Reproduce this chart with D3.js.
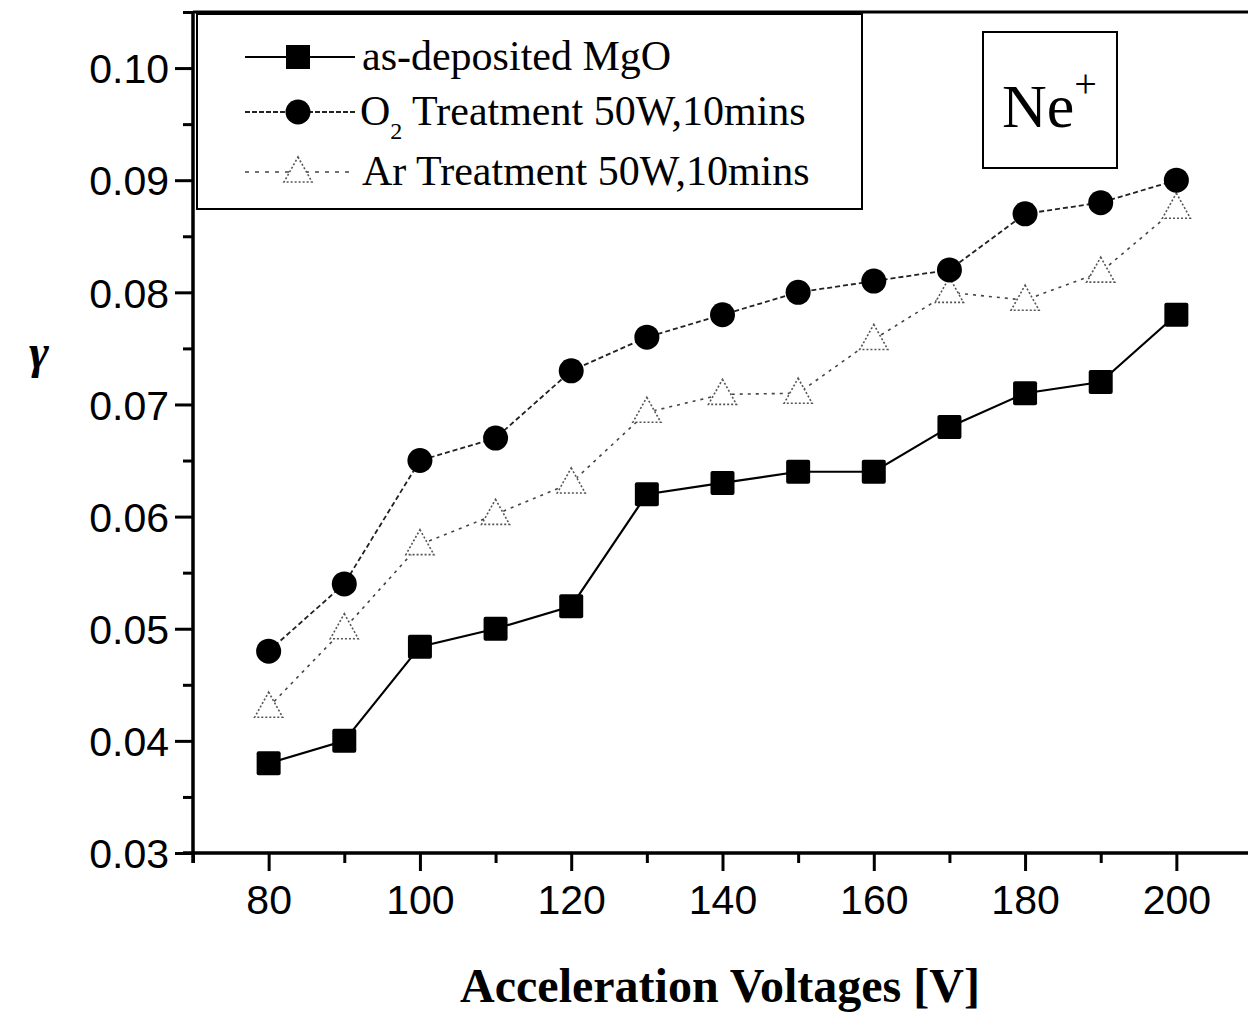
<!DOCTYPE html>
<html>
<head>
<meta charset="utf-8">
<script src="https://cdn.jsdelivr.net/npm/d3@7"></script>
<style>
  html, body { margin: 0; padding: 0; background: #fff; }
  svg { display: block; }
  .tick text { font-family: Arial, "Liberation Sans", sans-serif; }
</style>
</head>
<body>
<svg id="chart" width="1248" height="1016"></svg>
<script>
// Acceleration voltages (V)
const voltages = [80, 90, 100, 110, 120, 130, 140, 150, 160, 170, 180, 190, 200];

// Secondary electron emission coefficient (gamma) for Ne+ ions
const asDeposited = [0.038, 0.040, 0.0484, 0.050, 0.052, 0.062, 0.063, 0.064, 0.064, 0.068, 0.071, 0.072, 0.078];
const o2Treatment = [0.048, 0.054, 0.065, 0.067, 0.073, 0.076, 0.078, 0.080, 0.081, 0.082, 0.087, 0.088, 0.090];
const arTreatment = [0.043, 0.050, 0.0575, 0.0602, 0.063, 0.0693, 0.0709, 0.071, 0.0758, 0.080, 0.0793, 0.0818, 0.0875];

const seriesNames = ["as-deposited MgO", "Treatment 50W,10mins", "Ar Treatment 50W,10mins"];

const xTicks = [80, 100, 120, 140, 160, 180, 200];
const xMinorTicks = [70, 90, 110, 130, 150, 170, 190, 210];
const yTicks = [0.03, 0.04, 0.05, 0.06, 0.07, 0.08, 0.09, 0.10];
const yMinorTicks = [0.035, 0.045, 0.055, 0.065, 0.075, 0.085, 0.095, 0.105];

const svg = d3.select("#chart");

const x = d3.scaleLinear().domain([70, 210]).range([193, 1252]);
const y = d3.scaleLinear().domain([0.03, 0.105]).range([853, 12]);

// Frame (top and right edges)
svg.append("path")
  .attr("d", `M${x(70)},${y(0.105)} H${x(210)} V${y(0.03)}`)
  .attr("fill", "none").attr("stroke", "#000").attr("stroke-width", 3);

// Y axis
const yAxis = svg.append("g").attr("transform", `translate(${x(70)},0)`);
yAxis.call(d3.axisLeft(y).tickValues(yTicks).tickFormat(d3.format(".2f")).tickSize(18).tickPadding(6));
yAxis.append("g").call(d3.axisLeft(y).tickValues(yMinorTicks).tickFormat("").tickSize(10));
yAxis.selectAll(".domain").attr("stroke-width", 3).attr("d", `M0,${y(0.105)}V${y(0.03) + 10}`);
yAxis.selectAll("line").attr("stroke-width", 3);
yAxis.selectAll("text").attr("font-size", 41).attr("fill", "#000").attr("dy", "0.36em");

// X axis
const xAxis = svg.append("g").attr("transform", `translate(0,${y(0.03)})`);
xAxis.call(d3.axisBottom(x).tickValues(xTicks).tickFormat(d3.format("d")).tickSize(18).tickPadding(14));
xAxis.append("g").call(d3.axisBottom(x).tickValues(xMinorTicks).tickFormat("").tickSize(10));
xAxis.selectAll(".domain").attr("stroke-width", 3).attr("d", `M${x(70) - 10},0H${x(210)}`);
xAxis.selectAll("line").attr("stroke-width", 3);
xAxis.selectAll("text").attr("font-size", 41).attr("fill", "#000");

const serif = "'Liberation Serif', 'Times New Roman', serif";

// Axis titles
svg.append("text")
  .attr("x", 720).attr("y", 1002)
  .attr("text-anchor", "middle")
  .attr("font-family", serif)
  .attr("font-weight", "bold").attr("font-size", 48)
  .text("Acceleration Voltages [V]");

svg.append("text")
  .attr("x", 39).attr("y", 368)
  .attr("text-anchor", "middle")
  .attr("font-family", serif)
  .attr("font-weight", "bold").attr("font-style", "italic").attr("font-size", 48)
  .text("γ");

// Series lines
const line = d3.line().x(d => x(d[0])).y(d => y(d[1]));
const zip = vals => voltages.map((v, i) => [v, vals[i]]);

svg.append("path").datum(zip(arTreatment))
  .attr("d", line).attr("fill", "none")
  .attr("stroke", "#444").attr("stroke-width", 1.6).attr("stroke-dasharray", "3,5");
svg.append("path").datum(zip(o2Treatment))
  .attr("d", line).attr("fill", "none")
  .attr("stroke", "#222").attr("stroke-width", 1.8).attr("stroke-dasharray", "5,3");
svg.append("path").datum(zip(asDeposited))
  .attr("d", line).attr("fill", "none")
  .attr("stroke", "#000").attr("stroke-width", 2.2);

// Markers
const sqSize = 24, circR = 12.5;
const triPath = (cx, cy) => `M${cx},${cy - 15}L${cx + 14},${cy + 10}L${cx - 14},${cy + 10}Z`;

svg.append("g").selectAll("path").data(zip(arTreatment)).join("path")
  .attr("d", d => triPath(x(d[0]), y(d[1])))
  .attr("fill", "#fff").attr("stroke", "#555").attr("stroke-width", 1.6)
  .attr("stroke-dasharray", "2,2");

svg.append("g").selectAll("circle").data(zip(o2Treatment)).join("circle")
  .attr("cx", d => x(d[0])).attr("cy", d => y(d[1])).attr("r", circR)
  .attr("fill", "#000");

svg.append("g").selectAll("rect").data(zip(asDeposited)).join("rect")
  .attr("x", d => x(d[0]) - sqSize / 2).attr("y", d => y(d[1]) - sqSize / 2)
  .attr("width", sqSize).attr("height", sqSize).attr("rx", 2)
  .attr("fill", "#000");

// Legend
const legend = svg.append("g");
legend.append("rect")
  .attr("x", 197).attr("y", 14).attr("width", 665).attr("height", 195)
  .attr("fill", "#fff").attr("stroke", "#000").attr("stroke-width", 2);

const rows = [57, 112, 172];
const lx0 = 245, lx1 = 355, lm = 298, ltx = 362;

legend.append("line").attr("x1", lx0).attr("x2", lx1).attr("y1", rows[0]).attr("y2", rows[0])
  .attr("stroke", "#000").attr("stroke-width", 2);
legend.append("rect").attr("x", lm - 12).attr("y", rows[0] - 12).attr("width", 24).attr("height", 24).attr("fill", "#000");

legend.append("line").attr("x1", lx0).attr("x2", lx1).attr("y1", rows[1]).attr("y2", rows[1])
  .attr("stroke", "#222").attr("stroke-width", 1.8).attr("stroke-dasharray", "5,2");
legend.append("circle").attr("cx", lm).attr("cy", rows[1]).attr("r", 12.5).attr("fill", "#000");

legend.append("line").attr("x1", lx0).attr("x2", lx1).attr("y1", rows[2]).attr("y2", rows[2])
  .attr("stroke", "#444").attr("stroke-width", 1.5).attr("stroke-dasharray", "4,6");
legend.append("path").attr("d", triPath(lm, rows[2])).attr("fill", "#fff")
  .attr("stroke", "#555").attr("stroke-width", 1.6).attr("stroke-dasharray", "2,2");

const textStyle = sel => sel.attr("font-family", serif).attr("font-size", 42).attr("fill", "#000");

legend.append("text").attr("x", ltx).attr("y", rows[0] + 13).call(textStyle).text(seriesNames[0]);

const t2 = legend.append("text").attr("x", ltx - 2).attr("y", rows[1] + 13).call(textStyle);
t2.append("tspan").text("O");
t2.append("tspan").attr("font-size", 24).attr("dy", 14).text("2");
t2.append("tspan").attr("dy", -14).text(" " + seriesNames[1]);

legend.append("text").attr("x", ltx).attr("y", rows[2] + 13).call(textStyle).text(seriesNames[2]);

// Ion species label
svg.append("rect")
  .attr("x", 983).attr("y", 32).attr("width", 134).attr("height", 136)
  .attr("fill", "#fff").attr("stroke", "#000").attr("stroke-width", 2);
const ne = svg.append("text").attr("x", 1002).attr("y", 127)
  .attr("font-family", serif).attr("font-size", 62).attr("fill", "#000");
ne.append("tspan").text("Ne");
ne.append("tspan").attr("font-size", 40).attr("dy", -30).text("+");
</script>
</body>
</html>
